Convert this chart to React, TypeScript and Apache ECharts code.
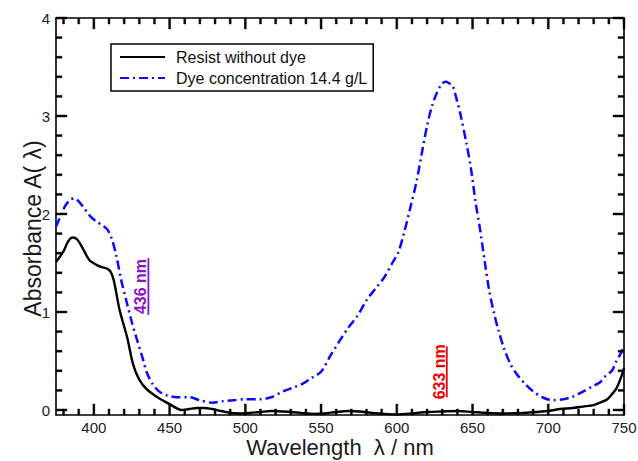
import React, { useEffect, useRef } from "react";
import * as echarts from "echarts";

// ---- data ----
const blackWavelength = [375, 380, 383, 386, 389, 393, 397, 403, 410, 413, 417, 422, 426, 430, 435, 442, 450, 458, 463, 468, 473, 478, 484, 490, 497, 503, 510, 517, 524, 530, 537, 545, 552, 560, 568, 575, 584, 592, 600, 610, 620, 630, 640, 650, 660, 670, 683, 692, 700, 708, 716, 723, 730, 735, 739, 742, 745, 748, 750];
const blackAbsorbance = [1.51, 1.62, 1.72, 1.76, 1.74, 1.64, 1.53, 1.47, 1.43, 1.33, 1.02, 0.74, 0.46, 0.31, 0.21, 0.13, 0.06, 0.0, 0.01, 0.02, 0.02, 0.01, -0.01, -0.03, -0.035, -0.03, -0.02, -0.01, -0.015, -0.02, -0.03, -0.04, -0.035, -0.02, -0.01, -0.015, -0.03, -0.04, -0.045, -0.035, -0.02, -0.015, -0.01, -0.02, -0.03, -0.035, -0.03, -0.02, -0.01, 0.01, 0.02, 0.035, 0.05, 0.08, 0.11, 0.16, 0.22, 0.33, 0.43];

const blueWavelength = [375, 378, 381, 384, 387, 390, 394, 398, 402, 406, 409, 412, 415, 418, 422, 425, 428, 432, 435, 439, 443, 448, 455, 463, 470, 478, 485, 492, 500, 510, 517, 525, 532, 538, 544, 550, 556, 562, 568, 574, 580, 586, 592, 597, 601, 605, 609, 613, 617, 620, 623, 626, 629, 632, 634, 637, 640, 642, 646, 649, 652, 655, 658, 661, 664, 667, 671, 675, 679, 685, 690, 696, 703, 710, 716, 722, 729, 734, 738, 742, 745, 748, 750];
const blueAbsorbance = [1.87, 1.98, 2.08, 2.14, 2.16, 2.13, 2.05, 1.97, 1.92, 1.88, 1.84, 1.74, 1.56, 1.33, 1.08, 0.9, 0.74, 0.54, 0.38, 0.26, 0.19, 0.15, 0.13, 0.13, 0.1, 0.075, 0.09, 0.1, 0.11, 0.11, 0.13, 0.19, 0.23, 0.27, 0.33, 0.39, 0.55, 0.7, 0.84, 0.96, 1.12, 1.24, 1.36, 1.5, 1.61, 1.82, 2.07, 2.33, 2.66, 2.9, 3.09, 3.22, 3.31, 3.35, 3.34, 3.3, 3.14, 3.02, 2.72, 2.46, 2.12, 1.84, 1.52, 1.22, 1.0, 0.82, 0.62, 0.47, 0.37, 0.26, 0.19, 0.13, 0.1, 0.11, 0.135, 0.18, 0.24, 0.28, 0.35, 0.4, 0.5, 0.58, 0.66];

const seriesNames = ["Resist without dye", "Dye concentration 14.4 g/L"];

const xRange = [375, 750];
const yRange = [-0.051, 4];
const xMajorTicks = [400, 450, 500, 550, 600, 650, 700, 750];
const xMinorTicks = [380, 390, 410, 420, 430, 440, 460, 470, 480, 490, 510, 520, 530, 540, 560, 570, 580, 590, 610, 620, 630, 640, 660, 670, 680, 690, 710, 720, 730, 740];
const yMajorTicks = [0, 1, 2, 3, 4];
const yMinorTicks = [0.2, 0.4, 0.6, 0.8, 1.2, 1.4, 1.6, 1.8, 2.2, 2.4, 2.6, 2.8, 3.2, 3.4, 3.6, 3.8];

const annotationWavelength = [436, 633];
const annotationLabels = ["436 nm", "633 nm"];
const annotationTop = [1.55, 0.65];
const annotationBottom = [0.97, 0.13];
const annotationColors = ["#8a14c8", "#ee0000"];

const FONT = "'Liberation Sans', Arial, Helvetica, sans-serif";
const MAJOR = 11;
const MINOR = 6;
const TICK_W = 2;

const frameLine = { show: true, onZero: false, lineStyle: { color: "#000", width: 1.6 } };

export default function App() {
  const ref = useRef<HTMLDivElement>(null);
  useEffect(() => {
    if (!ref.current) return;
    const chart = echarts.init(ref.current, undefined, { renderer: "svg" });

    const option: any = {
      animation: false,
      backgroundColor: "#fff",
      grid: { left: 56, right: 14, top: 18, bottom: 46, outerBoundsMode: "none", containLabel: false },
      legend: {
        orient: "vertical",
        left: 111,
        top: 44,
        padding: [5, 6, 5, 8],
        itemGap: 5,
        itemWidth: 45,
        itemHeight: 16,
        borderColor: "#000",
        borderWidth: 1.5,
        backgroundColor: "#fff",
        itemStyle: { opacity: 0 },
        textStyle: { fontSize: 16, color: "#111", fontFamily: FONT, padding: [0, 0, 0, 6] },
        data: seriesNames,
      },
      xAxis: [
        {
          type: "value",
          position: "bottom",
          min: xRange[0],
          max: xRange[1],
          name: "Wavelength  \u03bb / nm",
          nameLocation: "middle",
          nameGap: 21,
          nameMoveOverlap: false,
          nameTextStyle: { fontSize: 22, lineHeight: 22, color: "#1a1a1a", fontFamily: FONT },
          axisLine: frameLine,
          axisTick: { show: false },
          axisLabel: { show: true, customValues: xMajorTicks, margin: 5, fontSize: 15, lineHeight: 14, color: "#222", fontFamily: FONT },
          splitLine: { show: false },
        },
        {
          type: "value",
          position: "top",
          min: xRange[0],
          max: xRange[1],
          axisLine: frameLine,
          axisTick: { show: false },
          axisLabel: { show: false },
          splitLine: { show: false },
        },
      ],
      yAxis: [
        {
          type: "value",
          position: "left",
          min: yRange[0],
          max: yRange[1],
          name: "Absorbance A( \u03bb)",
          nameLocation: "middle",
          nameGap: 12,
          nameMoveOverlap: false,
          nameTextStyle: { fontSize: 23, lineHeight: 23, color: "#1a1a1a", fontFamily: FONT, padding: [0, 24, 0, 0] },
          axisLine: frameLine,
          axisTick: { show: false },
          axisLabel: { show: true, customValues: yMajorTicks, margin: 6, fontSize: 15, color: "#222", fontFamily: FONT },
          splitLine: { show: false },
        },
        {
          type: "value",
          position: "right",
          min: yRange[0],
          max: yRange[1],
          axisLine: frameLine,
          axisTick: { show: false },
          axisLabel: { show: false },
          splitLine: { show: false },
        },
      ],
      series: [
        {
          name: seriesNames[0],
          type: "line",
          xAxisIndex: 0,
          yAxisIndex: 0,
          symbol: "none",
          smooth: 0.3,
          lineStyle: { color: "#000", width: 2.4 },
          itemStyle: { color: "#000" },
          data: blackWavelength.map((w, i) => [w, blackAbsorbance[i]]),
          z: 3,
        },
        {
          name: seriesNames[1],
          type: "line",
          xAxisIndex: 0,
          yAxisIndex: 0,
          symbol: "none",
          smooth: 0.3,
          lineStyle: { color: "#0a0aff", width: 2.5, type: [9, 4, 2, 4] },
          itemStyle: { color: "#0a0aff" },
          data: blueWavelength.map((w, i) => [w, blueAbsorbance[i]]),
          z: 4,
        },
      ],
    };
    chart.setOption(option);

    const toPx = (x: number, y: number) =>
      chart.convertToPixel({ xAxisIndex: 0, yAxisIndex: 0 }, [x, y]) as number[];

    const graphics: any[] = [];
    const vTick = (v: number, yVal: number, len: number, dir: number) => {
      const p = toPx(v, yVal);
      const y0 = dir < 0 ? p[1] - len : p[1];
      graphics.push({
        type: "rect",
        silent: true,
        shape: { x: p[0] - TICK_W / 2, y: y0, width: TICK_W, height: len },
        style: { fill: "#000000", stroke: "#000000", lineWidth: 0.4 },
        z: 60,
      });
    };
    const hTick = (v: number, xVal: number, len: number, dir: number) => {
      const p = toPx(xVal, v);
      const x0 = dir < 0 ? p[0] - len : p[0];
      graphics.push({
        type: "rect",
        silent: true,
        shape: { x: x0, y: p[1] - TICK_W / 2, width: len, height: TICK_W },
        style: { fill: "#000000", stroke: "#000000", lineWidth: 0.4 },
        z: 60,
      });
    };
    xMajorTicks.forEach((v) => {
      vTick(v, yRange[0], MAJOR, -1);
      vTick(v, yRange[1], MAJOR, 1);
    });
    xMinorTicks.forEach((v) => {
      vTick(v, yRange[0], MINOR, -1);
      vTick(v, yRange[1], MINOR, 1);
    });
    yMajorTicks.forEach((v) => {
      hTick(v, xRange[0], MAJOR, 1);
      hTick(v, xRange[1], MAJOR, -1);
    });
    yMinorTicks.forEach((v) => {
      hTick(v, xRange[0], MINOR, 1);
      hTick(v, xRange[1], MINOR, -1);
    });

    annotationWavelength.forEach((w, i) => {
      const top = toPx(w, annotationTop[i]);
      const bot = toPx(w, annotationBottom[i]);
      const cy = (top[1] + bot[1]) / 2;
      graphics.push({
        type: "line",
        shape: { x1: top[0], y1: top[1], x2: bot[0], y2: bot[1] },
        style: { stroke: annotationColors[i], lineWidth: 1.8 },
        z: 10,
      });
      graphics.push({
        type: "text",
        x: top[0] - 7.5,
        y: cy,
        rotation: Math.PI / 2,
        style: {
          text: annotationLabels[i],
          fill: annotationColors[i],
          fontSize: 16,
          fontWeight: "bold",
          fontFamily: FONT,
          align: "center",
          verticalAlign: "middle",
        },
        z: 10,
      });
    });
    chart.setOption({ graphic: { elements: graphics } });

    return () => chart.dispose();
  }, []);
  return <div ref={ref} style={{ width: 638, height: 461, position: "absolute", left: 0, top: 0 }} />;
}
